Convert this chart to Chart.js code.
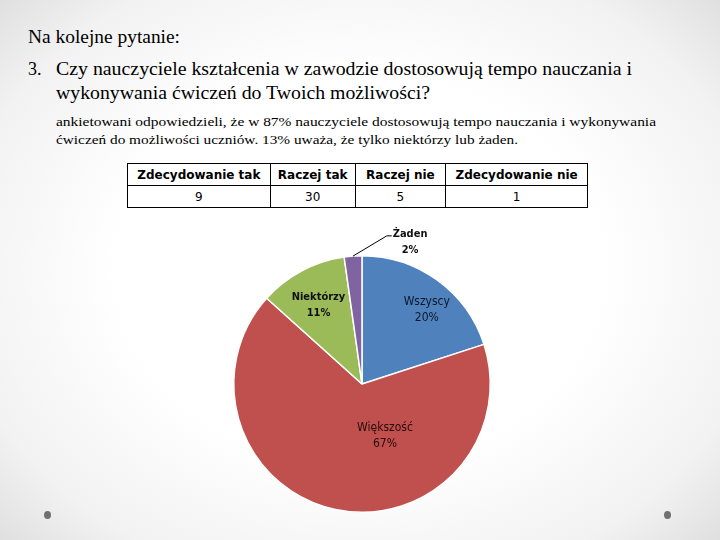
<!DOCTYPE html>
<html lang="pl">
<head>
<meta charset="utf-8">
<script src="https://cdn.jsdelivr.net/npm/chart.js@4"></script>
<style>
  html, body { margin:0; padding:0; }
  body {
    width:720px; height:540px; position:relative; overflow:hidden;
    background: radial-gradient(ellipse 75% 80% at 50% 50%, #ffffff 45%, #f2f2f2 75%, #d6d6d6 100%);
    font-family: "Liberation Serif", "DejaVu Serif", serif; color:#000;
  }
  .ln { position:absolute; white-space:nowrap; transform-origin:0 0; line-height:1; font-family:"Liberation Serif", serif; }
  .big { font-size:18px; }
  .small { font-size:13.5px; }
  table.t {
    position:absolute; left:127px; top:163px; width:461px; height:44px;
    border-collapse:collapse; font-family:"DejaVu Sans", Verdana, sans-serif; font-size:12px;
    background:#fff;
  }
  table.t td { border:1.5px solid #000; text-align:center; padding:0; height:21px; }
  table.t tr.h td { font-weight:bold; }
  .dot { position:absolute; width:7px; height:8px; border-radius:50%; background:#707070; }
  #wrap { position:absolute; left:222px; top:220px; width:280px; height:300px; }
</style>
</head>
<body>
<div class="ln big" data-w="152" style="left:28px; top:28px;">Na kolejne pytanie:</div>
<div class="ln big" style="left:28px; top:60px;">3.</div>
<div class="ln big" data-w="576" style="left:56px; top:60px;">Czy nauczyciele kształcenia w zawodzie dostosowują tempo nauczania i</div>
<div class="ln big" data-w="374" style="left:56px; top:84px;">wykonywania ćwiczeń do Twoich możliwości?</div>
<div class="ln small" data-w="600" style="left:56px; top:115px;">ankietowani odpowiedzieli, że w 87% nauczyciele dostosowują tempo nauczania i wykonywania</div>
<div class="ln small" data-w="462" style="left:56px; top:133px;">ćwiczeń do możliwości uczniów. 13% uważa, że tylko niektórzy lub żaden.</div>

<table class="t" id="tbl"></table>

<div id="wrap"><canvas id="c" width="280" height="300"></canvas></div>

<div class="dot" style="left:44px; top:511px;"></div>
<div class="dot" style="left:664px; top:511px;"></div>

<script>
// ---- data ----
const tableHeaders = ["Zdecydowanie tak", "Raczej tak", "Raczej nie", "Zdecydowanie nie"];
const tableValues = [9, 30, 5, 1];
const pieLabels = ["Wszyscy", "Większość", "Niektórzy", "Żaden"];
const pieValues = [9, 30, 5, 1];
const pieColors = ["#4F81BD", "#C0504D", "#9BBB59", "#8064A2"];

// ---- table ----
const colW = [143, 85, 91, 142];
const tbl = document.getElementById('tbl');
const trH = document.createElement('tr'); trH.className = 'h';
const trV = document.createElement('tr');
tableHeaders.forEach((h, i) => {
  const td = document.createElement('td'); td.textContent = h; td.style.width = colW[i] + 'px'; trH.appendChild(td);
  const tv = document.createElement('td'); tv.textContent = tableValues[i]; trV.appendChild(tv);
});
tbl.appendChild(trH); tbl.appendChild(trV);

// ---- fit text lines ----
document.querySelectorAll('.ln[data-w]').forEach(el => {
  const w = el.getBoundingClientRect().width;
  const target = +el.dataset.w;
  el.style.transform = 'scaleX(' + (target / w) + ')';
});

// ---- label placement (style) ----
const labelStyle = [
  { frac: 0.77, dAng: 5,   bold: false, size: 12, color: '#0e1628' },
  { frac: 0.44, dAng: -36, bold: false, size: 12, color: '#260a0a' },
  { frac: 0.70, dAng: -1,  bold: true,  size: 11, color: '#111' },
  { frac: 1.17, dAng: 22.7, bold: true, size: 11, color: '#111', leader: true }
];

const labelPlugin = {
  id: 'pieLabels',
  afterDatasetsDraw(chart) {
    const ctx = chart.ctx;
    const meta = chart.getDatasetMeta(0);
    const total = pieValues.reduce((a, b) => a + b, 0);
    meta.data.forEach((arc, i) => {
      const { x, y, startAngle, endAngle, outerRadius } = arc.getProps(['x','y','startAngle','endAngle','outerRadius'], true);
      const mid = (startAngle + endAngle) / 2;
      const st = labelStyle[i];
      const a = mid + st.dAng * Math.PI / 180;
      const lx = x + Math.cos(a) * outerRadius * st.frac;
      const ly = y + Math.sin(a) * outerRadius * st.frac;
      const pct = Math.round(pieValues[i] / total * 100) + '%';
      ctx.save();
      ctx.font = (st.bold ? 'bold ' : '') + st.size + 'px "DejaVu Sans Condensed", "DejaVu Sans", Tahoma, sans-serif';
      ctx.fillStyle = st.color;
      ctx.textAlign = 'center';
      ctx.textBaseline = 'middle';
      ctx.fillText(pieLabels[i], lx, ly - 8);
      ctx.fillText(pct, lx, ly + 8);
      if (st.leader) {
        const tw = ctx.measureText(pieLabels[i]).width;
        const ex = x + Math.cos(mid) * outerRadius;
        const ey = y + Math.sin(mid) * outerRadius;
        ctx.strokeStyle = '#000';
        ctx.lineWidth = 1;
        ctx.beginPath();
        ctx.moveTo(ex, ey);
        ctx.lineTo(lx - tw / 2 - 6, ly - 6);
        ctx.lineTo(lx - tw / 2 - 1, ly - 6);
        ctx.stroke();
      }
      ctx.restore();
    });
  }
};

new Chart(document.getElementById('c'), {
  type: 'pie',
  data: {
    labels: pieLabels,
    datasets: [{
      data: pieValues,
      backgroundColor: pieColors,
      borderColor: '#ffffff',
      borderWidth: 1.5
    }]
  },
  options: {
    responsive: false,
    animation: false,
    layout: { padding: { top: 35, bottom: 7, left: 11, right: 11 } },
    plugins: { legend: { display: false }, tooltip: { enabled: false } }
  },
  plugins: [labelPlugin]
});
</script>
</body>
</html>
